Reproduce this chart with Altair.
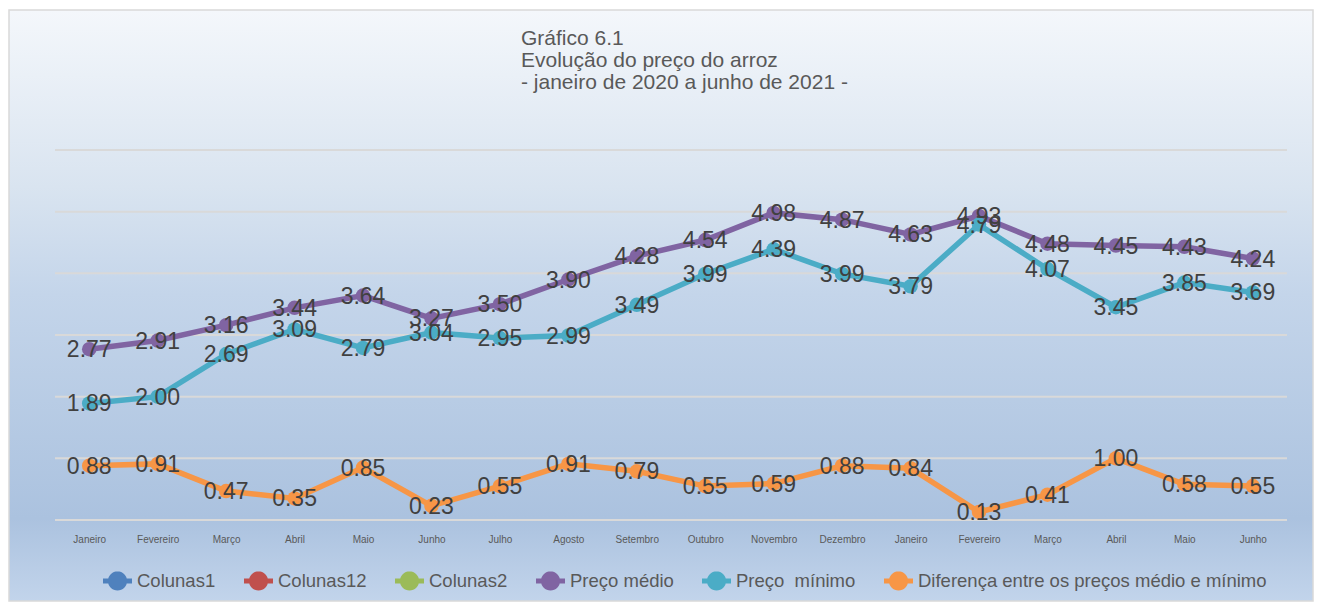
import math
import altair as alt
import pandas as pd

# ---- data ----
months = ["Janeiro", "Fevereiro", "Março", "Abril", "Maio", "Junho", "Julho", "Agosto",
          "Setembro", "Outubro", "Novembro", "Dezembro",
          "Janeiro", "Fevereiro", "Março", "Abril", "Maio", "Junho"]
preco_medio = [2.77, 2.91, 3.16, 3.44, 3.64, 3.27, 3.50, 3.90, 4.28, 4.54, 4.98, 4.87,
               4.63, 4.93, 4.48, 4.45, 4.43, 4.24]
preco_minimo = [1.89, 2.00, 2.69, 3.09, 2.79, 3.04, 2.95, 2.99, 3.49, 3.99, 4.39, 3.99,
                3.79, 4.79, 4.07, 3.45, 3.85, 3.69]
diferenca = [0.88, 0.91, 0.47, 0.35, 0.85, 0.23, 0.55, 0.91, 0.79, 0.55, 0.59, 0.88,
             0.84, 0.13, 0.41, 1.00, 0.58, 0.55]
series_names = ["Colunas1", "Colunas12", "Colunas2", "Preço médio", "Preço\u00a0 mínimo",
                "Diferença entre os preços médio e mínimo"]
series_colors = ["#4F81BD", "#C0504D", "#9BBB59", "#8064A2", "#4BACC6", "#F79646"]
grid_values = [0, 1, 2, 3, 4, 5, 6]
title_lines = ["Gráfico 6.1", "Evolução do preço do arroz", "- janeiro de 2020 a junho de 2021 -"]

rows = []
for name, vals in [(series_names[3], preco_medio), (series_names[4], preco_minimo),
                   (series_names[5], diferenca)]:
    for i, v in enumerate(vals):
        rows.append({"t": i, "series": name, "value": v})
df = pd.DataFrame(rows)

W, H = 1232, 370
FONT = "Liberation Sans"
label_expr = "[" + ",".join("'" + m + "'" for m in months) + "][datum.value]"

# legend symbol: a disc with a short line through it (line + marker look)
R = 0.66
circle_pts = " ".join(
    ("M" if k == 0 else "L") + f"{R*math.cos(2*math.pi*k/32):.3f},{R*math.sin(2*math.pi*k/32):.3f}"
    for k in range(32)) + " Z"
legend_path = "M-1,-0.17 L1,-0.17 L1,0.17 L-1,0.17 Z " + circle_pts

x_enc = alt.X("t:O", scale=alt.Scale(type="point", padding=0.5),
              axis=alt.Axis(title=None, labelExpr=label_expr, labelAngle=0, labelFontSize=10,
                            labelColor="#595959", labelFont=FONT, domain=False, ticks=False,
                            tickSize=0, labelPadding=14, grid=False, zindex=1))
y_scale = alt.Scale(domain=[0, 6], nice=False)
color_scale = alt.Scale(domain=series_names, range=series_colors)

bg = alt.Chart(pd.DataFrame({"a": [0]})).mark_rect(
    fill=alt.Gradient(gradient="linear", x1=0, y1=0, x2=0, y2=1,
                      stops=[alt.GradientStop(offset=0, color="#f4f7fb"),
                             alt.GradientStop(offset=0.3, color="#d9e4f0"),
                             alt.GradientStop(offset=0.48, color="#c4d5ea"),
                             alt.GradientStop(offset=0.86, color="#abc2df"),
                             alt.GradientStop(offset=1, color="#c2d4eb")]),
    stroke="#d9d9d9", strokeWidth=1.5
).encode(x=alt.value(-46), x2=alt.value(1258), y=alt.value(-140), y2=alt.value(451))

grid = alt.Chart(pd.DataFrame({"v": grid_values})).mark_rule(
    color="#d9d9d9", strokeWidth=2
).encode(y=alt.Y("v:Q", scale=y_scale, axis=None))

base = alt.Chart(df)

lines = base.mark_line(strokeWidth=5.5).encode(
    x=x_enc,
    y=alt.Y("value:Q", scale=y_scale, axis=None),
    stroke=alt.Stroke("series:N", scale=color_scale),
    detail="series:N",
)

points = base.mark_circle(size=210, opacity=1).encode(
    x=x_enc,
    y=alt.Y("value:Q", scale=y_scale, axis=None),
    color=alt.Color("series:N", scale=color_scale,
                    legend=alt.Legend(title=None, orient="none", legendX=48, legendY=416,
                                      direction="horizontal", columns=6, columnPadding=28,
                                      symbolType=legend_path, symbolSize=841,
                                      symbolStrokeWidth=0, symbolOpacity=1,
                                      labelFontSize=18.5, labelFont=FONT, labelColor="#595959",
                                      labelOffset=5, labelLimit=600, padding=0)),
)

texts = base.mark_text(fontSize=23, font=FONT, color="#404040", align="center",
                       baseline="middle", dy=1).encode(
    x=x_enc,
    y=alt.Y("value:Q", scale=y_scale, axis=None),
    text=alt.Text("value:Q", format=".2f"),
)

chart = alt.layer(bg, grid, lines, points, texts).properties(
    width=W, height=H,
    title=alt.TitleParams(text=title_lines, anchor="start", frame="group", dx=466,
                          fontSize=21, font=FONT, color="#595959", fontWeight="normal",
                          lineHeight=22, offset=-84),
    autosize=alt.AutoSizeParams(type="none"),
    padding={"left": 47, "top": 142, "right": 27, "bottom": 82},
).configure_view(stroke=None).configure(background="white")

chart.save("out.html", embed_options={"renderer": "svg", "actions": False})
